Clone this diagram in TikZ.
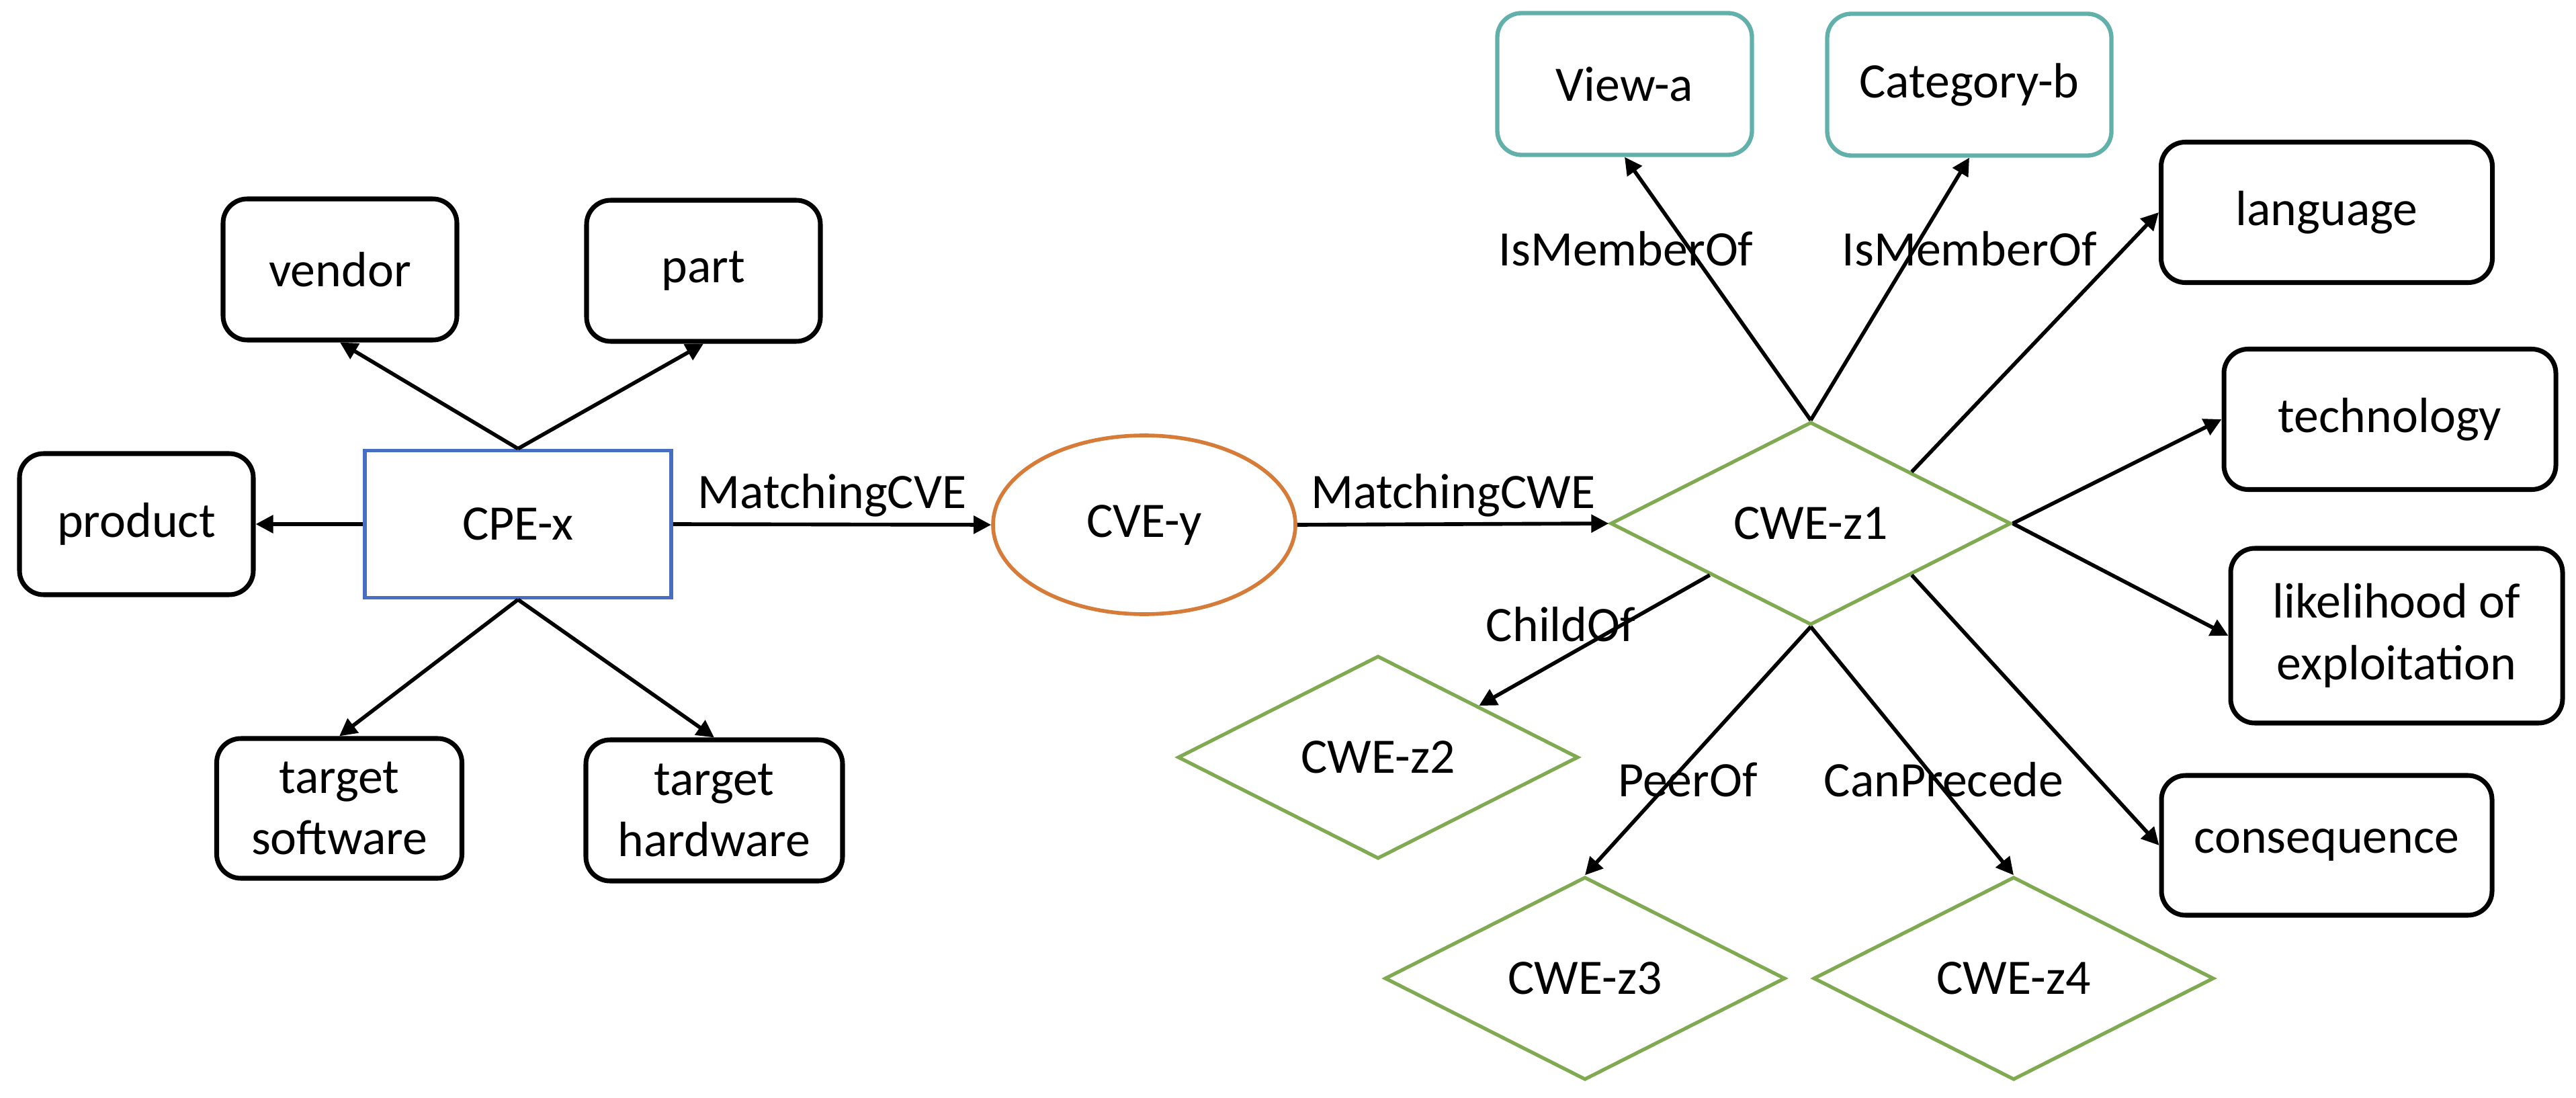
\documentclass[tikz,border=0pt]{standalone}
\usepackage{fontspec}
\setmainfont{Carlito}
\usepackage{xcolor}
\usepackage{tikz}
\usetikzlibrary{arrows.meta,shapes.geometric}
\definecolor{cpeblue}{RGB}{72,110,196}
\definecolor{cveorange}{RGB}{214,124,56}
\definecolor{cwegreen}{RGB}{128,170,82}
\definecolor{viewteal}{RGB}{98,176,170}
\tikzset{
  attr/.style   ={draw=black, line width=1pt, rounded corners=1.8mm, align=center,
                  minimum width=17.4mm, minimum height=10.5mm, inner sep=1pt},
  grpbox/.style ={draw=viewteal, line width=0.9pt, rounded corners=1.8mm, align=center,
                  minimum height=10.55mm, inner sep=1pt},
  cpebox/.style ={draw=cpeblue, line width=0.8pt, minimum width=22.8mm,
                  minimum height=10.95mm, inner sep=1pt},
  cveell/.style ={ellipse, draw=cveorange, line width=0.8pt, minimum width=22.5mm,
                  minimum height=13.3mm, inner sep=1pt},
  cwedia/.style ={diamond, aspect=2, draw=cwegreen, line width=0.75pt,
                  minimum width=29.8mm, minimum height=15.1mm, inner sep=1pt},
  ar/.style     ={-{Triangle[length=1.3mm,width=1.3mm]}, draw=black, line width=0.8pt},
  lbl/.style    ={inner sep=1.2pt},
}
\begin{document}
\begin{tikzpicture}[x=1mm,y=1mm,font=\fontsize{10.5}{13}\selectfont]
\useasboundingbox (0,0) rectangle (191.7,81.65);
% ---------- CPE and its attributes ----------
\node[cpebox] (cpe) at (38.55,42.65) {CPE-x};
\node[attr] (vendor)  at (25.3,61.6)  {vendor};
\node[attr] (part)    at (52.35,61.5) {part};
\node[attr] (product) at (10.15,42.65) {product};
\node[attr,minimum width=18.25mm,minimum height=10.4mm] (tsw) at (25.25,21.5) {target\\software};
\node[attr,minimum width=19.1mm] (thw) at (53.15,21.35) {target\\hardware};
\draw[ar] (cpe.north) -- (vendor.south);
\draw[ar] (cpe.north) -- (part.south);
\draw[ar] (cpe.west)  -- (product.east);
\draw[ar] (cpe.south) -- (tsw.north);
\draw[ar] (cpe.south) -- (thw.north);

% ---------- CVE ----------
\node[cveell] (cve) at (85.15,42.6) {CVE-y};
\draw[ar] (cpe.east) -- (cve.west) node[midway,above,lbl] (mcve) {MatchingCVE};

% ---------- CWE and its relations ----------
\node[cwedia] (z1) at (134.75,42.7) {CWE-z1};
\node[cwedia] (z2) at (102.55,25.3) {CWE-z2};
\node[cwedia] (z3) at (117.95,8.85) {CWE-z3};
\node[cwedia] (z4) at (149.85,8.85) {CWE-z4};
\draw[ar] (cve.east) -- (z1.west) node[midway,above,lbl] (mcwe) {MatchingCWE};

\node[grpbox,minimum width=18.95mm] (view) at (120.9,75.4)  {View-a};
\node[grpbox,minimum width=21.15mm] (cat)  at (146.55,75.35) {Category-b};
\draw[ar] (z1.north) -- (view.south);
\draw[ar] (z1.north) -- (cat.south);
\node[lbl] (mem-a) at (121.0,63.15)  {IsMemberOf};
\node[lbl] (mem-b) at (146.55,63.15) {IsMemberOf};

\draw[ar] (z1.south west) -- (z2.north east);
\draw[ar] (z1.south) -- (z3.north);
\draw[ar] (z1.south) -- (z4.north);
\node[lbl] (child) at (116.15,35.2)  {ChildOf};
\node[lbl] (peer)  at (125.6,23.65)  {PeerOf};
\node[lbl] (prec)  at (144.65,23.65) {CanPrecede};

% ---------- CWE attributes ----------
\node[attr,minimum width=24.65mm,minimum height=10.45mm] (lang) at (173.15,65.85) {language};
\node[attr,minimum width=24.7mm,minimum height=10.45mm]  (tech) at (177.85,50.45) {technology};
\node[attr,minimum width=24.7mm,minimum height=13mm]     (like) at (178.35,34.35) {likelihood of\\exploitation};
\node[attr,minimum width=24.6mm,minimum height=10.4mm]   (cons) at (173.15,18.75) {consequence};
\draw[ar] (z1.north east) -- (lang.west);
\draw[ar] (z1.east) -- (tech.west);
\draw[ar] (z1.east) -- (like.west);
\draw[ar] (z1.south east) -- (cons.west);
\end{tikzpicture}
\end{document}
